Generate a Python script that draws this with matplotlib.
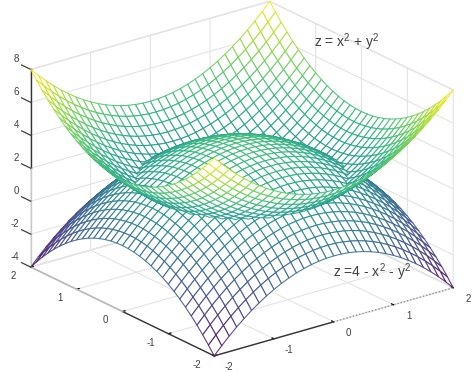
import matplotlib
matplotlib.use("Agg")
import matplotlib.pyplot as plt
from matplotlib.ticker import NullFormatter
from mpl_toolkits.mplot3d import proj3d
from mpl_toolkits.mplot3d.art3d import Poly3DCollection
import numpy as np

plt.rcParams['font.family'] = ['Liberation Sans', 'DejaVu Sans']
plt.rcParams['mathtext.default'] = 'regular'

# mesh lines (33 lines per side)
grid_xy = [-2.0, -1.875, -1.75, -1.625, -1.5, -1.375, -1.25, -1.125, -1.0, -0.875, -0.75, -0.625, -0.5, -0.375, -0.25,
           -0.125, 0.0, 0.125, 0.25, 0.375, 0.5, 0.625, 0.75, 0.875, 1.0, 1.125, 1.25, 1.375, 1.5, 1.625, 1.75, 1.875, 2.0]
# squares of those lines, the equations are the ones printed on the chart
squares = [4.0, 3.5156, 3.0625, 2.6406, 2.25, 1.8906, 1.5625, 1.2656, 1.0, 0.7656, 0.5625, 0.3906, 0.25, 0.1406, 0.0625,
           0.0156, 0.0, 0.0156, 0.0625, 0.1406, 0.25, 0.3906, 0.5625, 0.7656, 1.0, 1.2656, 1.5625, 1.8906, 2.25, 2.6406, 3.0625, 3.5156, 4.0]
xy_ticks = [-2, -1, 0, 1, 2]
xy_labels = ["-2", "-1", "0", "1", "2"]
z_ticks = [-4, -2, 0, 2, 4, 6, 8]
z_labels = ["-4", "-2", "0", "2", "4", "6", "8"]

X, Y = np.meshgrid(grid_xy, grid_xy)
S = np.array(squares)
bowl = S[None, :] + S[:, None]
dome = 4 - bowl

fig = plt.figure(figsize=(4.74, 3.72), dpi=100)
# axes box is forced square, so make it as wide as the figure or the ticks get clipped
ax_h = 474 / 372
ax = fig.add_axes([-1.4 / 474, (1 - ax_h) / 2 + 1.0 / 372, 1, ax_h], projection="3d", proj_type="ortho")
ax.computed_zorder = False
ax.view_init(elev=21.8, azim=-127.5)
ax.set_box_aspect((300, 300, 212), zoom=1.243 * 372 / 474)
ax.set_xlim(-2, 2, view_margin=0)
ax.set_ylim(-2, 2, view_margin=0)
ax.set_zlim(-4, 8, view_margin=0)

# both surfaces go in one collection so they hide each other properly
polys = []
heights = []
for Z in (bowl, dome):
    for i in range(len(grid_xy) - 1):
        for j in range(len(grid_xy) - 1):
            polys.append([(X[i, j], Y[i, j], Z[i, j]), (X[i, j + 1], Y[i, j + 1], Z[i, j + 1]),
                          (X[i + 1, j + 1], Y[i + 1, j + 1], Z[i + 1, j + 1]), (X[i + 1, j], Y[i + 1, j], Z[i + 1, j])])
            heights.append((Z[i, j] + Z[i, j + 1] + Z[i + 1, j + 1] + Z[i + 1, j]) / 4)
heights = np.array(heights)
colors = plt.cm.viridis((heights + 4) / 11.7)
colors[:, 3] = 0.85
mesh = Poly3DCollection(polys, facecolors="white", edgecolors=colors, linewidths=0.8, zorder=5)
ax.add_collection3d(mesh, autolim=False)
mesh.set_clip_on(False)

ax.set_xticks(xy_ticks)
ax.set_yticks(xy_ticks)
ax.set_zticks(z_ticks)

for axis in (ax.xaxis, ax.yaxis, ax.zaxis):
    axis.set_pane_color((1, 1, 1, 1))
    axis.pane.set_edgecolor("#e4e4e4")
    axis._axinfo["grid"]["color"] = "#e4e4e4"
    axis._axinfo["grid"]["linewidth"] = 0.8
    axis._axinfo["tick"]["inward_factor"] = 0.0
    axis._axinfo["tick"]["outward_factor"] = 0.13
    axis._axinfo["tick"]["linewidth"] = {True: 0.9, False: 0.5}
    axis._axinfo["tick"]["color"] = "#404040"
    axis.line.set_color("none")
    # labels are placed by hand below
    axis.set_major_formatter(NullFormatter())
    for tick in axis.get_major_ticks():
        tick.label1.set_visible(False)
        tick.label2.set_visible(False)
ax.zaxis._axinfo["tick"]["outward_factor"] = 0.0

# axis lines: the picture has them dark on one half and faded on the other
for xs, ys, zs, col, width, style in [([-2, -2], [2, 2], [2, 8], "#333333", 1.0, "-"),
                                      ([-2, -2], [2, 2], [-4, 2], "#c8c8c8", 1.0, "-"),
                                      ([-2, -2], [-2, 0], [-4, -4], "#333333", 1.0, "-"),
                                      ([-2, -2], [0, 2], [-4, -4], "#b8b8b8", 1.2, "-"),
                                      ([-2, 0], [-2, -2], [-4, -4], "#333333", 1.0, "-"),
                                      ([0, 2], [-2, -2], [-4, -4], "#888888", 0.9, ":")]:
    ax.plot(xs, ys, zs, color=col, lw=width, ls=style, zorder=2, clip_on=False)


def tick_label(x, y, z, lab, ha="center"):
    # project by hand so the label is a plain 2D text on the axes
    px, py, _ = proj3d.proj_transform(x, y, z, ax.get_proj())
    ax.text2D(px, py, lab, transform=ax.transData, fontsize=7, color="#404040", ha=ha, va="center", zorder=6)


for t, lab in zip(xy_ticks, xy_labels):
    tick_label(t, -2.328, -4.226, lab)
    tick_label(-2.286, t, -4.25, lab)
for t, lab in zip(z_ticks, z_labels):
    ax.plot([-2, -2], [2, 2.2], [t, t], color="#404040", lw=0.9, zorder=2, clip_on=False)
    tick_label(-2, 2.262, t + 0.256, lab, ha="right")

fig.text(314 / 474, 1 - 47 / 372, "z = x$^{2}$ + y$^{2}$", fontsize=10, color="#404040")
fig.text(333 / 474, 1 - 277 / 372, "z =4 - x$^{2}$ - y$^{2}$", fontsize=10, color="#404040")

fig.savefig("out.png", dpi=100)
